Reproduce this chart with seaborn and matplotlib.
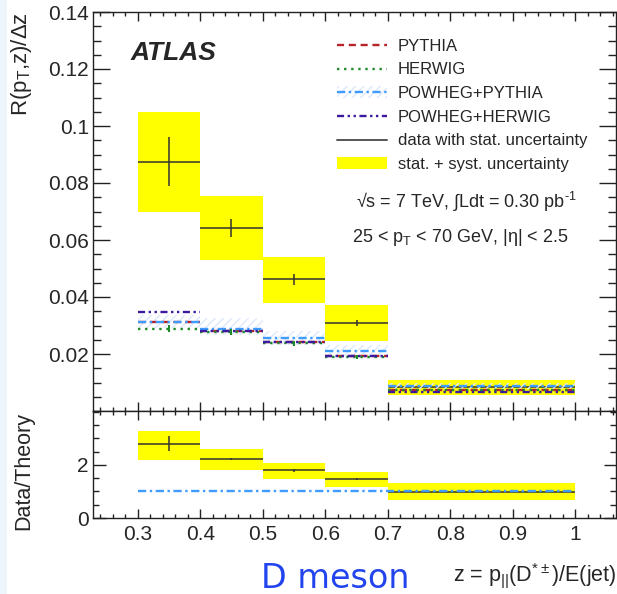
import numpy as np
import pandas as pd
import matplotlib
matplotlib.use("Agg")
import matplotlib.pyplot as plt
from matplotlib.lines import Line2D
from matplotlib.patches import Patch, Rectangle
from matplotlib.ticker import MultipleLocator, FixedLocator, FuncFormatter
import seaborn as sns

# ---------------- data ----------------
bin_lo = [0.3, 0.4, 0.5, 0.6, 0.7]
bin_hi = [0.4, 0.5, 0.6, 0.7, 1.0]

data_val = [0.0874, 0.0641, 0.0462, 0.0309, 0.0085]
data_stat = [0.0086, 0.0032, 0.0019, 0.0010, 0.0003]
syst_lo = [0.0700, 0.0530, 0.0380, 0.0246, 0.0056]
syst_hi = [0.1050, 0.0754, 0.0541, 0.0372, 0.0109]

pythia = [0.0313, 0.0280, 0.0243, 0.0192, 0.0075]
herwig = [0.0289, 0.0276, 0.0238, 0.0190, 0.0074]
powheg_pythia = [0.0313, 0.0289, 0.0256, 0.0211, 0.0088]
powheg_herwig = [0.0347, 0.0280, 0.0242, 0.0193, 0.0065]
herwig_err = [0.0012, 0.0010, 0.0009, 0.0007, 0.0003]
pp_band_lo = [0.0290, 0.0265, 0.0232, 0.0186, 0.0076]
pp_band_hi = [0.0338, 0.0325, 0.0282, 0.0232, 0.0100]

ratio_val = [2.79, 2.22, 1.79, 1.46, 0.98]
ratio_stat = [0.28, 0.05, 0.04, 0.03, 0.02]
ratio_lo = [2.19, 1.81, 1.46, 1.16, 0.68]
ratio_hi = [3.29, 2.60, 2.09, 1.75, 1.31]
ratio_theory = [1.0, 1.0, 1.0, 1.0, 1.0]

models = ["PYTHIA", "HERWIG", "POWHEG+PYTHIA", "POWHEG+HERWIG"]
model_vals = [pythia, herwig, powheg_pythia, powheg_herwig]

# ---------------- style ----------------
sns.set_style("ticks")
plt.rcParams["font.family"] = ["Liberation Sans", "DejaVu Sans"]
plt.rcParams["mathtext.fontset"] = "custom"
plt.rcParams["mathtext.rm"] = "Liberation Sans"
plt.rcParams["mathtext.it"] = "Liberation Sans:italic"
plt.rcParams["mathtext.bf"] = "Liberation Sans:bold"

colors = {"PYTHIA": "#b8232b", "HERWIG": "#1f8a2c",
          "POWHEG+PYTHIA": "#3f9bff", "POWHEG+HERWIG": "#3b1aa0"}
dashes = {"PYTHIA": (3.0, 2.0), "HERWIG": (1.0, 2.0),
          "POWHEG+PYTHIA": (3.5, 1.5, 1.0, 1.5),
          "POWHEG+HERWIG": (3.0, 1.5, 1.0, 1.5, 1.0, 1.5)}
hatch_col = "#dde9fb"

W, H = 617, 594
fig = plt.figure(figsize=(W / 100, H / 100), dpi=100)
fig.patch.set_facecolor("white")
fig.add_artist(Rectangle((0, 0), 7 / W, 1, transform=fig.transFigure,
                         facecolor="#eef5fb", edgecolor="none", zorder=-5))

L, R = 93, 616
ax1 = fig.add_axes([L / W, 1 - 411 / H, (R - L) / W, (411 - 12) / H])
ax2 = fig.add_axes([L / W, 1 - 518 / H, (R - L) / W, (518 - 411) / H])

xlim = (0.2285, 1.065)
TICK_FS = 15

# ---------------- main panel ----------------
widths = [h - l for l, h in zip(bin_lo, bin_hi)]
centers = [(l + h) / 2 for l, h in zip(bin_lo, bin_hi)]

ax1.bar(bin_lo, [h - l for l, h in zip(syst_lo, syst_hi)], width=widths,
        bottom=syst_lo, align="edge", color="#ffff00", linewidth=0, zorder=1)
ax1.errorbar(centers, data_val, xerr=[w / 2 for w in widths], yerr=data_stat,
             fmt="none", ecolor="#333333", elinewidth=1.1, capsize=0, zorder=2)

ax1.bar(bin_lo, [h - l for l, h in zip(pp_band_lo, pp_band_hi)], width=widths,
        bottom=pp_band_lo, align="edge", fill=False, hatch="////",
        edgecolor=hatch_col, linewidth=0, zorder=2.5)

rows = []
for m, vals in zip(models, model_vals):
    for i, v in enumerate(vals):
        rows.append({"z": bin_lo[i], "R": v, "model": m, "seg": i})
        rows.append({"z": bin_hi[i], "R": v, "model": m, "seg": i})
df = pd.DataFrame(rows)
sns.lineplot(data=df, x="z", y="R", hue="model", style="model", units="seg",
             estimator=None, sort=False, palette=colors, dashes=dashes,
             linewidth=1.7, legend=False, ax=ax1, zorder=3)
ax1.errorbar(centers, herwig, yerr=herwig_err, fmt="none",
             ecolor=colors["HERWIG"], elinewidth=1.5, capsize=0, zorder=3)

ax1.set_xlim(*xlim)
ax1.set_ylim(0, 0.14)
ax1.yaxis.set_major_locator(FixedLocator([0.02, 0.04, 0.06, 0.08, 0.10, 0.12, 0.14]))
ax1.yaxis.set_minor_locator(MultipleLocator(0.005))
ax1.yaxis.set_major_formatter(FuncFormatter(lambda v, p: "%g" % round(v, 3)))
ax1.xaxis.set_major_locator(MultipleLocator(0.1))
ax1.xaxis.set_minor_locator(MultipleLocator(0.02))
ax1.tick_params(axis="x", which="both", labelbottom=False)
ax1.tick_params(axis="both", which="both", direction="in", top=True, right=True,
                width=1.0, color="#222222")
ax1.tick_params(axis="y", which="major", length=12, labelsize=TICK_FS, pad=3)
ax1.tick_params(axis="y", which="minor", length=5.5)
ax1.tick_params(axis="x", which="major", length=6.5)
ax1.tick_params(axis="x", which="minor", length=3.2)
ax1.set_xlabel("")
ax1.set_ylabel(r"R(p$_{\rm T}$,z)/Δz", fontsize=16, loc="top")
ax1.yaxis.set_label_coords(-0.112, 1.0)
for s in ax1.spines.values():
    s.set_linewidth(1.0)
    s.set_color("#222222")

ax1.text(0.072, 0.897, "ATLAS", transform=ax1.transAxes, fontsize=19,
         fontweight="bold", fontstyle="italic", va="center", ha="left")
ax1.text(0.713, 0.524, r"√s = 7 TeV, ∫Ldt = 0.30 pb$^{\text{-1}}$",
         transform=ax1.transAxes, fontsize=13, ha="center", va="center")
ax1.text(0.702, 0.434, r"25 < p$_{\rm T}$ < 70 GeV, |η| < 2.5",
         transform=ax1.transAxes, fontsize=13, ha="center", va="center")

handles = [
    Line2D([], [], color=colors["PYTHIA"], lw=1.7, dashes=dashes["PYTHIA"]),
    Line2D([], [], color=colors["HERWIG"], lw=1.7, dashes=dashes["HERWIG"]),
    (Patch(facecolor="none", hatch="////", edgecolor=hatch_col, linewidth=0),
     Line2D([], [], color=colors["POWHEG+PYTHIA"], lw=1.7, dashes=dashes["POWHEG+PYTHIA"])),
    Line2D([], [], color=colors["POWHEG+HERWIG"], lw=1.7, dashes=dashes["POWHEG+HERWIG"]),
    Line2D([], [], color="#555555", lw=1.4),
    Patch(facecolor="#ffff00", edgecolor="none"),
]
labels = ["PYTHIA", "HERWIG", "POWHEG+PYTHIA", "POWHEG+HERWIG",
          "data with stat. uncertainty", "stat. + syst. uncertainty"]
ax1.legend(handles, labels, loc="upper left", bbox_to_anchor=(0.4665, 0.933),
           frameon=False, fontsize=12, handlelength=3.0, handletextpad=0.65,
           labelspacing=0.52, borderpad=0, borderaxespad=0)

# ---------------- ratio panel ----------------
ax2.bar(bin_lo, [h - l for l, h in zip(ratio_lo, ratio_hi)], width=widths,
        bottom=ratio_lo, align="edge", color="#ffff00", linewidth=0, zorder=1)
ax2.errorbar(centers, ratio_val, xerr=[w / 2 for w in widths], yerr=ratio_stat,
             fmt="none", ecolor="#333333", elinewidth=1.1, capsize=0, zorder=2)
rrows = []
for i, v in enumerate(ratio_theory):
    rrows.append({"z": bin_lo[i], "r": v, "seg": 0})
    rrows.append({"z": bin_hi[i], "r": v, "seg": 0})
rdf = pd.DataFrame(rrows)
sns.lineplot(data=rdf, x="z", y="r", units="seg", estimator=None, sort=False,
             color=colors["POWHEG+PYTHIA"], dashes=False, linewidth=1.7,
             legend=False, ax=ax2, zorder=3)
ax2.get_lines()[-1].set_dashes(dashes["POWHEG+PYTHIA"])

ax2.set_xlim(*xlim)
ax2.set_ylim(0, 4.03)
ax2.yaxis.set_major_locator(FixedLocator([0, 2]))
ax2.yaxis.set_minor_locator(MultipleLocator(0.5))
ax2.xaxis.set_major_locator(FixedLocator([0.3, 0.4, 0.5, 0.6, 0.7, 0.8, 0.9, 1.0]))
ax2.xaxis.set_minor_locator(MultipleLocator(0.02))
ax2.xaxis.set_major_formatter(FuncFormatter(lambda v, p: "%g" % round(v, 2)))
ax2.tick_params(axis="both", which="both", direction="in", top=True, right=True,
                width=1.0, color="#222222")
ax2.tick_params(axis="y", which="major", length=9, labelsize=TICK_FS, pad=3)
ax2.tick_params(axis="y", which="minor", length=4.5)
ax2.tick_params(axis="x", which="major", length=6.5, labelsize=TICK_FS, pad=5)
ax2.tick_params(axis="x", which="minor", length=3.2)
ax2.set_ylabel("Data/Theory", fontsize=15.5, loc="top")
ax2.yaxis.set_label_coords(-0.112, 0.99)
ax2.set_xlabel(r"z = p$_{||}$(D$^{*\pm}$)/E(jet)", fontsize=15.5, loc="right")
ax2.xaxis.set_label_coords(1.002, -0.40)
for s in ax2.spines.values():
    s.set_linewidth(1.0)
    s.set_color("#222222")

fig.text(335 / W, 1 - 588 / H, "D meson", family="DejaVu Sans", fontsize=24,
         color="#2244ee", ha="center", va="baseline")

fig.savefig("out.png", dpi=100)
